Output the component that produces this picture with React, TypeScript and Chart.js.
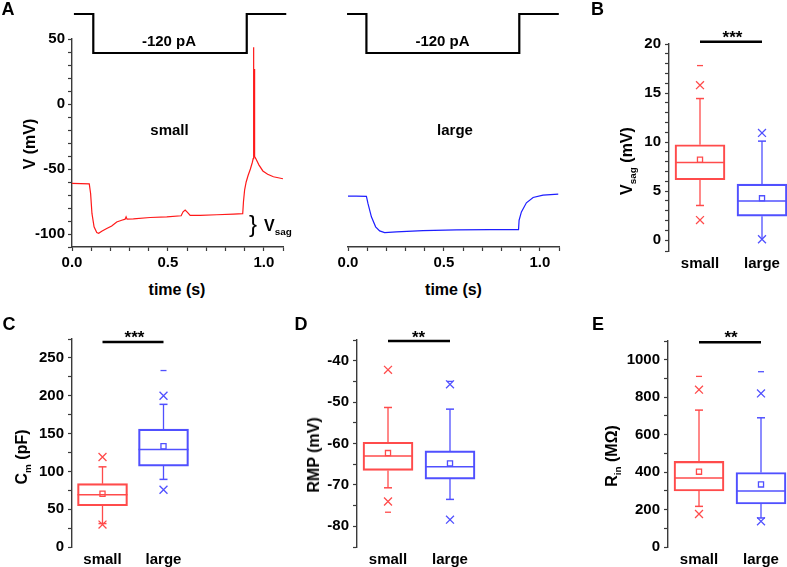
import React, { useEffect, useRef } from 'react';
import { Chart, registerables } from 'chart.js';

Chart.register(...registerables);

const FONT = '"Liberation Sans", Arial, Helvetica, sans-serif';
const RED = 'rgb(255, 75, 75)';
const BLUE = 'rgb(80, 80, 255)';
const TRACE_RED = 'rgb(255, 25, 25)';
const TRACE_BLUE = 'rgb(30, 30, 255)';
const AXIS = '#3a3a3a';

Chart.defaults.font.family = FONT;

// ---------------- Panel A: voltage traces ----------------
const smallTraceT = [0, 0.09, 0.097, 0.104, 0.115, 0.129, 0.139, 0.155, 0.181, 0.207, 0.233, 0.259, 0.277, 0.282, 0.287, 0.32, 0.407, 0.494, 0.569, 0.579, 0.59, 0.602, 0.616, 0.668, 0.755, 0.842, 0.89, 0.894, 0.9, 0.908, 0.918, 0.93, 0.94, 0.9445, 0.946, 0.948, 0.9505, 0.952, 0.958, 0.975, 0.995, 1.02, 1.05, 1.1];
const smallTraceV = [-61.1, -61.4, -68.8, -84.2, -94.5, -98.9, -99.4, -97.9, -95.8, -93.8, -90.7, -89.4, -88.6, -86.8, -88.6, -88.4, -87.3, -86.8, -86.0, -82.9, -81.6, -83.4, -85.7, -85.7, -85.2, -84.7, -84.4, -75, -66, -60, -55, -50, -45, -42, 43.6, -38, 27, -40.5, -42, -47, -51.5, -54, -56, -57.5];
const largeTraceT = [0, 0.043, 0.096, 0.104, 0.122, 0.144, 0.165, 0.191, 0.252, 0.391, 0.565, 0.739, 0.889, 0.892, 0.904, 0.93, 0.965, 1.017, 1.096];
const largeTraceV = [-70.9, -70.9, -71.1, -76.5, -86.8, -94.5, -97.6, -98.9, -98.4, -97.4, -96.8, -96.6, -96.6, -89.4, -83, -76, -71.9, -70.1, -69.3];
const stepSmallT = [0.01, 0.111, 0.111, 0.911, 0.911, 1.117];
const stepSmallI = [0, 0, -120, -120, 0, 0];
const stepLargeT = [-0.005, 0.096, 0.096, 0.893, 0.893, 1.099];
const stepLargeI = [0, 0, -120, -120, 0, 0];
const voltMajor = [-100, -50, 0, 50];
const timeMajor = [0, 0.5, 1.0];

// ---------------- Box plots ----------------
const groups = ['small', 'large'];

const vsagQ1 = [6.16, 2.45];
const vsagMed = [7.91, 4.0];
const vsagQ3 = [9.73, 5.72];
const vsagMean = [8.2, 4.27];
const vsagWhLo = [3.54, 0.1];
const vsagWhHi = [14.44, 10.1];
const vsagP1 = [2.05, 0.1];
const vsagP99 = [15.8, 10.94];
const vsagMin = [null, null];
const vsagMax = [17.8, null];
const vsagMajor = [0, 5, 10, 15, 20];

const cmQ1 = [54.5, 107];
const cmMed = [69, 128.9];
const cmQ3 = [83.7, 155.8];
const cmMean = [70.4, 133.2];
const cmWhLo = [31, 89.4];
const cmWhHi = [106, 188.6];
const cmP1 = [29.6, 75.7];
const cmP99 = [119, 200];
const cmMin = [null, null];
const cmMax = [null, 233.3];
const cmMajor = [0, 50, 100, 150, 200, 250];

const rmpQ1 = [-66.5, -68.6];
const rmpMed = [-63.0, -65.6];
const rmpQ3 = [-59.7, -61.8];
const rmpMean = [-62.3, -64.8];
const rmpWhLo = [-70.7, -73.5];
const rmpWhHi = [-51.3, -51.7];
const rmpP1 = [-74.0, -78.4];
const rmpP99 = [-42.2, -45.7];
const rmpMin = [-76.6, null];
const rmpMax = [null, -45.0];
const rmpMajor = [-80, -70, -60, -50, -40];

const rinQ1 = [299, 229.5];
const rinMed = [368, 299];
const rinQ3 = [457, 398];
const rinMean = [402, 334];
const rinWhLo = [217, 155];
const rinWhHi = [731, 690];
const rinP1 = [176, 137];
const rinP99 = [840, 820];
const rinMin = [null, null];
const rinMax = [911, 936];
const rinMajor = [0, 200, 400, 600, 800, 1000];

const sigLevels = [20.23, 271, -35.24, 1093];
const sigStars = ['***', '***', '**', '**'];

// ---------------- helpers ----------------
type Frame = { x: number; y: number; w: number; h: number; yw: number; xh: number; padding: any };

function frame(L: number, T: number, R: number, B: number, yw: number, xh: number, pad: { t: number; r: number; b: number; l: number }): Frame {
  const x = L - yw - pad.l;
  const y = T - pad.t;
  const w = R + pad.r - x;
  const h = B + xh + pad.b - y;
  return { x, y, w, h, yw, xh, padding: { top: pad.t, right: pad.r, bottom: pad.b, left: pad.l } };
}

const xy = (xs: number[], ys: (number | null)[]) => xs.map((x, i) => ({ x, y: ys[i] }));
const isMajor = (v: number, arr: number[]) => arr.some((m) => Math.abs(m - v) < 1e-6);
const tickFont = { family: FONT, size: 15, weight: 'bold' as const };

function common(f: Frame) {
  return {
    responsive: false,
    animation: false as const,
    devicePixelRatio: 1,
    events: [] as any[],
    layout: { padding: f.padding, autoPadding: false },
    plugins: { legend: { display: false }, tooltip: { enabled: false }, title: { display: false } },
  };
}

function yAxis(min: number, max: number, step: number, major: number[], f: Frame, tickPad = 3) {
  return {
    type: 'linear',
    min,
    max,
    beginAtZero: false,
    afterFit: (s: any) => {
      s.width = f.yw;
    },
    ticks: {
      stepSize: step,
      autoSkip: false,
      padding: tickPad,
      font: tickFont,
      color: '#000',
      callback: (v: any) => (isMajor(Number(v), major) ? String(Math.round(Number(v))) : ''),
    },
    grid: { drawOnChartArea: false, drawTicks: true, tickLength: 4, tickColor: AXIS, tickWidth: 1.2 },
    border: { display: true, color: AXIS, width: 1.4 },
  };
}

function traceConfig(T: number[], V: number[], color: string, showY: boolean, f: Frame) {
  return {
    type: 'line',
    data: {
      datasets: [
        { data: xy(T, V), borderColor: color, borderWidth: 1.2, pointRadius: 0, tension: 0 },
      ],
    },
    options: {
      ...common(f),
      scales: {
        x: {
          type: 'linear',
          min: 0,
          max: 1.1,
          offset: false,
          afterFit: (s: any) => {
            s.height = f.xh;
          },
          ticks: {
            stepSize: 0.1,
            autoSkip: false,
            maxRotation: 0,
            minRotation: 0,
            padding: 3,
            font: tickFont,
            color: '#000',
            callback: (v: any) => (isMajor(Number(v), timeMajor) ? Number(v).toFixed(1) : ''),
          },
          grid: { drawOnChartArea: false, drawTicks: true, tickLength: 4, tickColor: AXIS, tickWidth: 1.2 },
          border: { display: true, color: AXIS, width: 1.4 },
        },
        y: showY ? yAxis(-110, 50, 10, voltMajor, f) : { type: 'linear', min: -110, max: 50, display: false },
      },
    },
  };
}

function stepConfig(T: number[], I: number[], f: Frame) {
  return {
    type: 'line',
    data: {
      datasets: [
        { data: xy(T, I), borderColor: '#000', borderWidth: 2.2, pointRadius: 0, tension: 0, clip: false },
      ],
    },
    options: {
      ...common(f),
      scales: {
        x: { type: 'linear', min: 0, max: 1.1, offset: false, display: false },
        y: { type: 'linear', min: -120, max: 0, display: false },
      },
    },
  };
}

type BoxData = {
  q1: number[]; med: number[]; q3: number[]; mean: number[];
  wLo: number[]; wHi: number[]; p1: number[]; p99: number[];
  mn: (number | null)[]; mx: (number | null)[];
  min: number; max: number; step: number; major: number[];
  xMax: number; sig: number;
};

const colOf = (i: number) => (i === 0 ? RED : BLUE);
const ptColor = (ctx: any) => (ctx.raw ? colOf(ctx.raw.x - 1) : RED);

function pts(arr: (number | null)[]) {
  const out: { x: number; y: number }[] = [];
  arr.forEach((v, i) => {
    if (v !== null && v !== undefined) out.push({ x: i + 1, y: v });
  });
  return out;
}

function boxConfig(d: BoxData, f: Frame) {
  const caps: { x: number; y: number }[] = [];
  groups.forEach((_, i) => {
    if (d.wLo[i] !== d.p1[i]) caps.push({ x: i + 1, y: d.wLo[i] });
    if (d.wHi[i] !== d.p99[i]) caps.push({ x: i + 1, y: d.wHi[i] });
  });
  const scatter = (data: any[], style: string, radius: number, bw: number, extra: any = {}) => ({
    type: 'scatter',
    data,
    showLine: false,
    pointStyle: style,
    pointRadius: radius,
    pointBorderWidth: bw,
    pointBorderColor: ptColor,
    pointBackgroundColor: 'rgba(0,0,0,0)',
    ...extra,
  });
  const whiskers = groups.map((_, i) => ({
    type: 'line',
    data: [
      { x: i + 1, y: d.wLo[i] },
      { x: i + 1, y: d.q1[i] },
      { x: i + 1, y: null },
      { x: i + 1, y: d.q3[i] },
      { x: i + 1, y: d.wHi[i] },
    ],
    borderColor: colOf(i),
    borderWidth: 1.3,
    pointRadius: 0,
    spanGaps: false,
    tension: 0,
  }));
  return {
    type: 'scatter',
    data: {
      datasets: [
        {
          type: 'line',
          data: [
            { x: 1, y: d.sig },
            { x: 2, y: d.sig },
          ],
          borderColor: '#000',
          borderWidth: 2.6,
          pointRadius: 0,
          clip: false,
        },
        scatter(pts(d.mean), 'rect', 3.6, 1.3),
        scatter(pts(d.med), 'line', 25, 1.5),
        {
          type: 'bar',
          data: groups.map((_, i) => ({ x: i + 1, y: [d.q1[i], d.q3[i]] })),
          backgroundColor: 'rgba(0,0,0,0)',
          borderColor: [RED, BLUE],
          borderWidth: 1.5,
          borderSkipped: false,
          barThickness: 50,
        },
        scatter(caps, 'line', 4, 1.5),
        scatter([...pts(d.p1), ...pts(d.p99)], 'crossRot', 5.6, 1.3),
        scatter([...pts(d.mn), ...pts(d.mx)], 'line', 3, 1.3),
        ...whiskers,
      ],
    },
    options: {
      ...common(f),
      scales: {
        x: {
          type: 'linear',
          min: 0.5,
          max: d.xMax,
          offset: false,
          afterBuildTicks: (s: any) => {
            s.ticks = groups.map((_, i) => ({ value: i + 1 }));
          },
          afterFit: (s: any) => {
            s.height = f.xh;
          },
          ticks: {
            autoSkip: false,
            maxRotation: 0,
            minRotation: 0,
            padding: 4,
            font: tickFont,
            color: '#000',
            callback: (v: any) => groups[Math.round(Number(v)) - 1] ?? '',
          },
          grid: { display: false, drawTicks: false, tickLength: 0, offset: false },
          border: { display: false },
        },
        y: yAxis(d.min, d.max, d.step, d.major, f, 4),
      },
    },
  };
}

function ChartCanvas({ f, make }: { f: Frame; make: () => any }) {
  const ref = useRef<HTMLCanvasElement | null>(null);
  useEffect(() => {
    const chart = new Chart(ref.current as HTMLCanvasElement, make());
    return () => chart.destroy();
  }, []);
  return (
    <canvas
      ref={ref}
      width={f.w}
      height={f.h}
      style={{ position: 'absolute', left: f.x, top: f.y, width: f.w, height: f.h, display: 'block' }}
    />
  );
}

function Txt({ x, y, size, rot, left, weight = 'bold', children }: any) {
  const tr = left ? 'translate(0,-50%)' : 'translate(-50%,-50%)';
  return (
    <div
      style={{
        position: 'absolute',
        left: x,
        top: y,
        transform: tr + (rot ? ' rotate(-90deg)' : ''),
        font: `${weight} ${size}px ${FONT}`,
        lineHeight: 1,
        whiteSpace: 'nowrap',
        color: '#000',
      }}
    >
      {children}
    </div>
  );
}

const Sub = ({ children }: any) => (
  <span style={{ fontSize: '0.62em', position: 'relative', top: '0.38em' }}>{children}</span>
);

// frames (chart areas in page pixels)
const fTraceL = frame(72, 39, 283, 247, 72, 32, { t: 14, r: 4, b: 2, l: 0 });
const fTraceR = frame(348, 39, 559, 247, 0, 32, { t: 14, r: 6, b: 2, l: 18 });
const fStepL = frame(72, 14, 283, 53, 0, 0, { t: 4, r: 8, b: 4, l: 6 });
const fStepR = frame(348, 14, 559, 53, 0, 0, { t: 4, r: 6, b: 4, l: 6 });
const fB = frame(669, 44, 787, 251, 60, 26, { t: 14, r: 2, b: 2, l: 0 });
const fC = frame(72, 339, 194, 547, 72, 26, { t: 14, r: 4, b: 2, l: 0 });
const fD = frame(357, 340, 481, 547, 60, 26, { t: 14, r: 4, b: 2, l: 0 });
const fE = frame(668, 341, 787, 547, 70, 26, { t: 14, r: 2, b: 2, l: 0 });

const dB: BoxData = { q1: vsagQ1, med: vsagMed, q3: vsagQ3, mean: vsagMean, wLo: vsagWhLo, wHi: vsagWhHi, p1: vsagP1, p99: vsagP99, mn: vsagMin, mx: vsagMax, min: -1.1, max: 20, step: 1, major: vsagMajor, xMax: 0.5 + 118 / 62, sig: sigLevels[0] };
const dC: BoxData = { q1: cmQ1, med: cmMed, q3: cmQ3, mean: cmMean, wLo: cmWhLo, wHi: cmWhHi, p1: cmP1, p99: cmP99, mn: cmMin, mx: cmMax, min: 0, max: 275, step: 25, major: cmMajor, xMax: 2.5, sig: sigLevels[1] };
const dD: BoxData = { q1: rmpQ1, med: rmpMed, q3: rmpQ3, mean: rmpMean, wLo: rmpWhLo, wHi: rmpWhHi, p1: rmpP1, p99: rmpP99, mn: rmpMin, mx: rmpMax, min: -85, max: -35, step: 5, major: rmpMajor, xMax: 2.5, sig: sigLevels[2] };
const dE: BoxData = { q1: rinQ1, med: rinMed, q3: rinQ3, mean: rinMean, wLo: rinWhLo, wHi: rinWhHi, p1: rinP1, p99: rinP99, mn: rinMin, mx: rinMax, min: 0, max: 1100, step: 100, major: rinMajor, xMax: 0.5 + 119 / 62, sig: sigLevels[3] };

export default function App() {
  return (
    <div
      style={{
        position: 'fixed',
        left: 0,
        top: 0,
        width: 787,
        height: 567,
        overflow: 'hidden',
        background: '#fff',
      }}
    >
      <ChartCanvas f={fTraceL} make={() => traceConfig(smallTraceT, smallTraceV, TRACE_RED, true, fTraceL)} />
      <ChartCanvas f={fTraceR} make={() => traceConfig(largeTraceT, largeTraceV, TRACE_BLUE, false, fTraceR)} />
      <ChartCanvas f={fStepL} make={() => stepConfig(stepSmallT, stepSmallI, fStepL)} />
      <ChartCanvas f={fStepR} make={() => stepConfig(stepLargeT, stepLargeI, fStepR)} />
      <ChartCanvas f={fB} make={() => boxConfig(dB, fB)} />
      <ChartCanvas f={fC} make={() => boxConfig(dC, fC)} />
      <ChartCanvas f={fD} make={() => boxConfig(dD, fD)} />
      <ChartCanvas f={fE} make={() => boxConfig(dE, fE)} />

      {/* panel letters */}
      <Txt x={8} y={8.5} size={18}>A</Txt>
      <Txt x={597.5} y={8.5} size={18}>B</Txt>
      <Txt x={9} y={323.5} size={18}>C</Txt>
      <Txt x={301} y={323.5} size={18}>D</Txt>
      <Txt x={598} y={323.5} size={18}>E</Txt>

      {/* panel A annotations */}
      <Txt x={169} y={40} size={15}>-120 pA</Txt>
      <Txt x={442.5} y={40} size={15}>-120 pA</Txt>
      <Txt x={169.5} y={129} size={15}>{groups[0]}</Txt>
      <Txt x={455} y={129} size={15}>{groups[1]}</Txt>
      <Txt x={177} y={290} size={16}>time (s)</Txt>
      <Txt x={453.5} y={290} size={16}>time (s)</Txt>
      <Txt x={29.5} y={144} size={16} rot>V (mV)</Txt>
      <Txt x={253} y={223.5} size={24} weight="normal">{'}'}</Txt>
      <Txt x={264} y={226} size={16} left>
        V<Sub>sag</Sub>
      </Txt>

      {/* box panel titles */}
      <Txt x={627} y={161} size={16} rot>
        V<Sub>sag</Sub> (mV)
      </Txt>
      <Txt x={22} y={456.5} size={16} rot>
        C<Sub>m</Sub> (pF)
      </Txt>
      <Txt x={313.5} y={455} size={16} rot>RMP (mV)</Txt>
      <Txt x={611.5} y={456} size={16} rot>
        R<Sub>in</Sub> (MΩ)
      </Txt>

      {/* significance stars */}
      <Txt x={732.5} y={37} size={17}>{sigStars[0]}</Txt>
      <Txt x={134.5} y={337} size={17}>{sigStars[1]}</Txt>
      <Txt x={418.5} y={337} size={17}>{sigStars[2]}</Txt>
      <Txt x={731} y={337} size={17}>{sigStars[3]}</Txt>
    </div>
  );
}
